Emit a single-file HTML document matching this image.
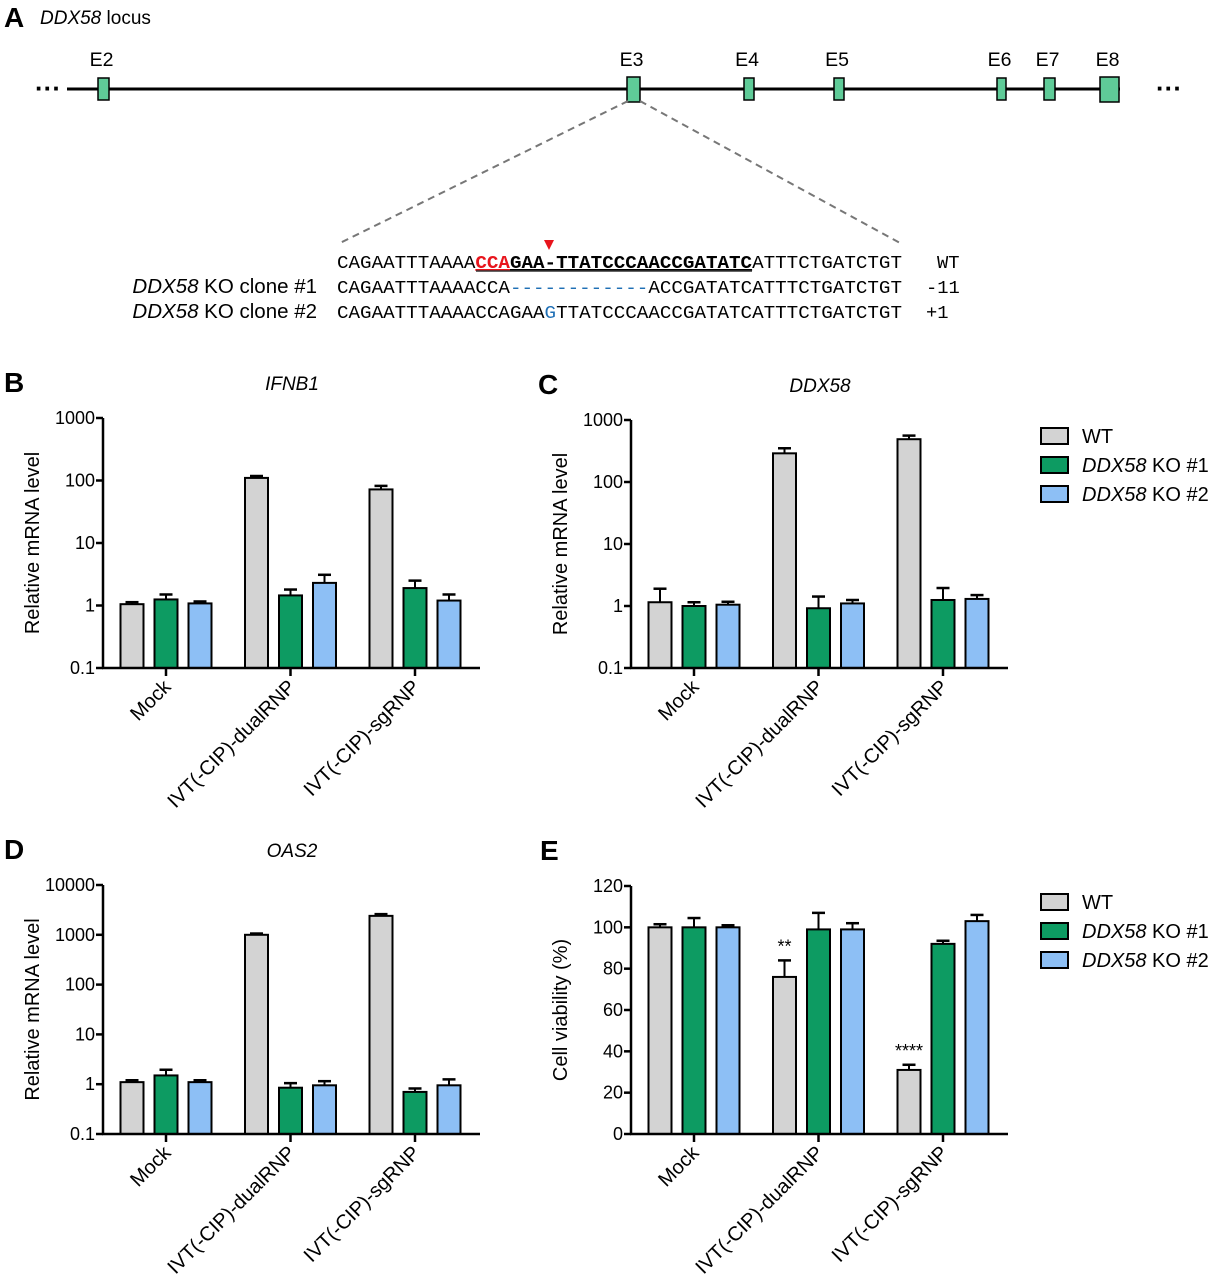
<!DOCTYPE html>
<html><head><meta charset="utf-8">
<style>
body{margin:0;background:#fff;}
svg{display:block;font-family:"Liberation Sans",sans-serif;}
.mono{font-family:"Liberation Mono",monospace;}
</style></head>
<body>
<svg id="fig" width="1213" height="1280" viewBox="0 0 1213 1280">
<g>
<text x="4" y="27" font-size="28" font-weight="bold">A</text>
<text x="40" y="24" font-size="19"><tspan font-style="italic">DDX58</tspan> locus</text>
<text x="35" y="97" font-size="26" font-weight="bold">···</text>
<text x="1156" y="97" font-size="26" font-weight="bold">···</text>
<line x1="67" y1="89" x2="1120" y2="89" stroke="#000" stroke-width="3"/>
<g id="exons"></g>
<line x1="628" y1="101" x2="340" y2="243" stroke="#777" stroke-width="2" stroke-dasharray="7,5"/>
<line x1="640" y1="101" x2="900" y2="243" stroke="#777" stroke-width="2" stroke-dasharray="7,5"/>
<polygon points="544,240 554,240 549,250" fill="#e8141c"/>
<g class="mono" font-size="18.8">
<text x="337" y="268" textLength="565" lengthAdjust="spacingAndGlyphs">CAGAATTTAAAA<tspan fill="#e8141c" font-weight="bold" text-decoration="underline">CCA</tspan><tspan font-weight="bold" text-decoration="underline">GAA-TTATCCCAACCGATATC</tspan>ATTTCTGATCTGT</text>
<line x1="476" y1="271" x2="752" y2="271" stroke="#333" stroke-width="1.5"/>
<text x="337" y="293" textLength="565" lengthAdjust="spacingAndGlyphs">CAGAATTTAAAACCA<tspan fill="#1f6fb5">------------</tspan>ACCGATATCATTTCTGATCTGT</text>
<text x="337" y="318" textLength="565" lengthAdjust="spacingAndGlyphs">CAGAATTTAAAACCAGAA<tspan fill="#1f6fb5">G</tspan>TTATCCCAACCGATATCATTTCTGATCTGT</text>
<text x="937" y="268">WT</text>
<text x="926" y="293">-11</text>
<text x="926" y="318">+1</text>
</g>
<text x="317" y="293" font-size="20.5" text-anchor="end"><tspan font-style="italic">DDX58</tspan> KO clone #1</text>
<text x="317" y="318" font-size="20.5" text-anchor="end"><tspan font-style="italic">DDX58</tspan> KO clone #2</text>
</g>
<g id="charts"></g>
</svg>
<script>
const NS="http://www.w3.org/2000/svg";
const fig=document.getElementById('fig');
function mk(tag,attrs,parent){const e=document.createElementNS(NS,tag);for(const k in attrs)e.setAttribute(k,attrs[k]);(parent||fig).appendChild(e);return e;}

const exonNames=["E2","E3","E4","E5","E6","E7","E8"];
const exonStarts=[98,627,744,834,997,1044,1100];
const exonWidths=[11,13,10,10,9,11,19];
const exG=document.getElementById('exons');
exonNames.forEach((n,i)=>{
  const big=exonWidths[i]>12;
  const r=mk('rect',{x:exonStarts[i],y:big?77:78,width:exonWidths[i],height:big?25:22,fill:'#5fcb98',stroke:'#000','stroke-width':1.5},exG);
  
  
  const t=mk('text',{x:exonStarts[i]+exonWidths[i]/2-2,y:66,'font-size':19.5,'text-anchor':'middle'},exG);
  t.textContent=n;
  
  
});

const categories=["Mock","IVT(-CIP)-dualRNP","IVT(-CIP)-sgRNP"];
const seriesNames=["WT","DDX58 KO #1","DDX58 KO #2"];
const colors=["#d3d3d3","#0d9b62","#8dbff5"];
// Panel B IFNB1
const bWT=[1.05,110,72], bKO1=[1.25,1.45,1.9], bKO2=[1.08,2.3,1.2];
const bWTerr=[0.08,8,10], bKO1err=[0.25,0.35,0.6], bKO2err=[0.08,0.8,0.3];
// Panel C DDX58
const cWT=[1.15,290,490], cKO1=[1.0,0.92,1.25], cKO2=[1.05,1.1,1.3];
const cWTerr=[0.75,60,70], cKO1err=[0.15,0.5,0.7], cKO2err=[0.12,0.15,0.2];
// Panel D OAS2
const dWT=[1.1,1000,2400], dKO1=[1.5,0.85,0.7], dKO2=[1.1,0.95,0.95];
const dWTerr=[0.1,60,200], dKO1err=[0.45,0.2,0.12], dKO2err=[0.1,0.2,0.3];
// Panel E viability
const eWT=[100,76,31], eKO1=[100,99,92], eKO2=[100,99,103];
const eWTerr=[1.5,8,2.5], eKO1err=[4.5,8,1.5], eKO2err=[1,3,3];
const eSig=["","**","****"];
const logTicks=["0.1","1","10","100","1000","10000"];
const linTicks=["0","20","40","60","80","100","120"];

const G=document.getElementById('charts');
function chart(o){
  const g=mk('g',{},G);
  
  
  const L=o.left,R=o.left+377,T=o.top,B=o.bottom;
  let y;
  if(o.log){const lo=Math.log10(o.min),hi=Math.log10(o.max);y=v=>B-(Math.log10(v)-lo)/(hi-lo)*(B-T);}
  else{y=v=>B-(v-o.min)/(o.max-o.min)*(B-T);}
  const lbl=mk('text',{x:o.letterX,y:T-26,'font-size':28,'font-weight':'bold'},g);lbl.textContent=o.letter;
  
  
  if(o.title){const t=mk('text',{x:L+189,y:T-28,'font-size':19,'font-style':'italic','text-anchor':'middle'},g);t.textContent=o.title;
    
    }
  const yt=mk('text',{transform:`translate(${L-64},${(T+B)/2}) rotate(-90)`,'font-size':20,'text-anchor':'middle'},g);yt.textContent=o.ytitle;
  
  
  o.ticks.forEach(tk=>{const v=parseFloat(tk);const yy=y(v);
    mk('line',{x1:L-7,x2:L,y1:yy,y2:yy,stroke:'#000','stroke-width':2.5},g);
    const t=mk('text',{x:L-8,y:yy+6,'font-size':18,'text-anchor':'end'},g);t.textContent=tk;
    
    });
  const series=[o.s[0],o.s[1],o.s[2]],errs=[o.e[0],o.e[1],o.e[2]];
  categories.forEach((c,ci)=>{
    const cx=L+63+ci*124.5;
    mk('line',{x1:cx,x2:cx,y1:B,y2:B+8,stroke:'#000','stroke-width':2.5},g);
    const t=mk('text',{transform:`translate(${cx+6},${B+20}) rotate(-45)`,'font-size':20,'text-anchor':'end'},g);t.textContent=c;
    
    
    for(let si=0;si<3;si++){
      const v=series[si][ci],e=errs[si][ci];
      const bx=cx+(si-1)*34-11.5;
      const top=y(v),et=y(v+e);
      mk('line',{x1:bx+11.5,x2:bx+11.5,y1:top,y2:et,stroke:'#000','stroke-width':2},g);
      mk('line',{x1:bx+5,x2:bx+18,y1:et,y2:et,stroke:'#000','stroke-width':2.5},g);
      const r=mk('rect',{x:bx,y:top,width:23,height:B-top,fill:colors[si],stroke:'#000','stroke-width':2},g);
      
      
      if(o.sig&&si===0&&o.sig[ci]){const st=mk('text',{x:bx+11.5,y:et-8,'font-size':18,'text-anchor':'middle'},g);st.textContent=o.sig[ci];
        
        }
    }
  });
  mk('line',{x1:L,x2:L,y1:T,y2:B+1,stroke:'#000','stroke-width':2.5},g);
  mk('line',{x1:L-1,x2:R,y1:B,y2:B,stroke:'#000','stroke-width':2.5},g);
  if(o.legend){
    seriesNames.forEach((n,i)=>{
      const ly=o.legend+i*29;
      const r=mk('rect',{x:1041,y:ly-8,width:27,height:16,fill:colors[i],stroke:'#000','stroke-width':2},g);
      
      
      const t=mk('text',{x:1082,y:ly+7,'font-size':20},g);
      if(i===0)t.textContent=n;else{const a=mk('tspan',{'font-style':'italic'},t);a.textContent='DDX58';const b=mk('tspan',{},t);b.textContent=' KO #'+i;}
      
      
    });
  }
}
chart({name:'chart-ifnb1',letter:'B',letterX:4,title:'IFNB1',left:103,top:418,bottom:668,log:true,min:0.1,max:1000,ticks:logTicks.slice(0,5),ytitle:'Relative mRNA level',s:[bWT,bKO1,bKO2],e:[bWTerr,bKO1err,bKO2err]});
chart({name:'chart-ddx58',letter:'C',letterX:538,title:'DDX58',left:631,top:420,bottom:668,log:true,min:0.1,max:1000,ticks:logTicks.slice(0,5),ytitle:'Relative mRNA level',s:[cWT,cKO1,cKO2],e:[cWTerr,cKO1err,cKO2err],legend:436});
chart({name:'chart-oas2',letter:'D',letterX:4,title:'OAS2',left:103,top:885,bottom:1134,log:true,min:0.1,max:10000,ticks:logTicks,ytitle:'Relative mRNA level',s:[dWT,dKO1,dKO2],e:[dWTerr,dKO1err,dKO2err]});
chart({name:'chart-viability',letter:'E',letterX:540,title:'',left:631,top:886,bottom:1134,log:false,min:0,max:120,ticks:linTicks,ytitle:'Cell viability (%)',s:[eWT,eKO1,eKO2],e:[eWTerr,eKO1err,eKO2err],sig:eSig,legend:902});
</script>
</body></html>
